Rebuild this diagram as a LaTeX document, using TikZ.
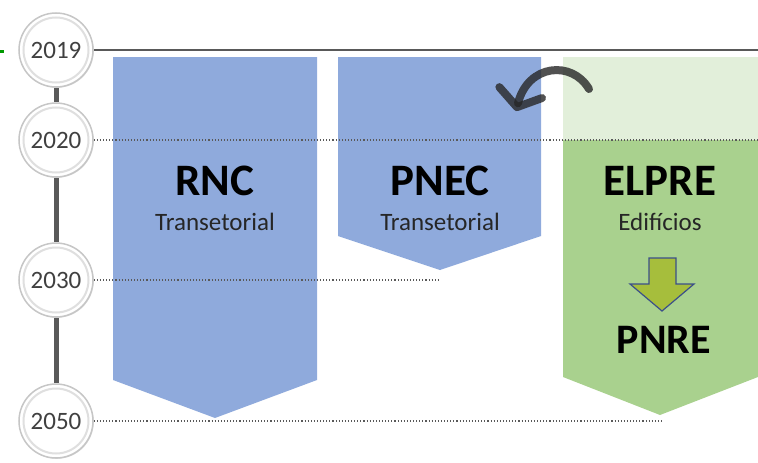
\documentclass[tikz,border=0pt]{standalone}
\usepackage{fontspec}
\setmainfont{Carlito}
\usepackage{xcolor}
\usetikzlibrary{arrows.meta,shadows}
\definecolor{bannerblue}{HTML}{8FAADC}
\definecolor{bannergreen}{HTML}{A9D18E}
\definecolor{palegreen}{HTML}{E2EFDA}
\definecolor{spinegray}{HTML}{595959}
\definecolor{olivearrow}{HTML}{A6BE3C}
\definecolor{arrowedge}{HTML}{3B4F8A}

\begin{document}
\begin{tikzpicture}[x=1pt, y=-1pt,
  yearball/.style={circle, fill=white, draw=gray!45, line width=1.5pt, minimum size=74pt,
    inner sep=0pt, font=\fontsize{25}{25}\selectfont, text=black!75,
    drop shadow={shadow xshift=0.8pt, shadow yshift=-0.8pt, opacity=0.3}},
  spine/.style={spinegray, line width=5pt},
  yearline/.style={black!65, dotted, line width=1.1pt},
  title/.style={font=\fontsize{45}{45}\selectfont\bfseries, text=black},
  subtitle/.style={font=\fontsize{25}{25}\selectfont, text=black!85}]
\useasboundingbox (0,0) rectangle (758,463);

% banners
\fill[bannerblue] (113,57) -- (317,57) -- (317,380) -- (215,418) -- (113,380) -- cycle;
\fill[bannerblue] (338,57) -- (541,57) -- (541,236) -- (440,270) -- (338,236) -- cycle;
\fill[palegreen] (563,57) rectangle (758,140);
\fill[bannergreen] (563,140) -- (758,140) -- (758,377) -- (660,415) -- (563,377) -- cycle;

% timeline
\node[yearball] (y2019) at (56,50) {2019};
\node[yearball] (y2020) at (56,140) {2020};
\node[yearball] (y2030) at (56,280) {2030};
\node[yearball] (y2050) at (56,421) {2050};
\foreach \n in {y2019,y2020,y2030,y2050}
  \draw[gray!25, line width=2pt] (\n.center) circle (32.5pt);
\foreach \a/\b in {y2019/y2020, y2020/y2030, y2030/y2050}
  \draw[spine] (\a) -- (\b);

\coordinate (end2019) at (758,50);
\coordinate (end2020) at (758,140);
\coordinate (end2030) at (440,280);
\coordinate (end2050) at (662,421);
\draw[spinegray, line width=2.2pt] (y2019) -- (end2019);
\draw[yearline] (y2020) -- (end2020);
\draw[yearline] (y2030) -- (end2030);
\draw[yearline] (y2050) -- (end2050);

\coordinate (tickL) at (0,51);
\coordinate (tickR) at (4,51);
\draw[green!60!black, line width=3pt] (tickL) -- (tickR);

% labels
\node[title] (rnc) at (215,181) {RNC};
\node[subtitle] (rncsub) at (215,222) {Transetorial};
\node[title] (pnec) at (440,181) {PNEC};
\node[subtitle] (pnecsub) at (440,222) {Transetorial};
\node[title] (elpre) at (660,181) {ELPRE};
\node[subtitle] (elpresub) at (660,222) {Edifícios};
\node[title, font=\fontsize{42}{42}\selectfont\bfseries] (pnre) at (664,340) {PNRE};

% down arrow
\draw[fill=olivearrow, draw=arrowedge, line width=1.2pt]
  (649,258) -- (676,258) -- (676,284) -- (694,284) -- (662,311)
  -- (630,284) -- (649,284) -- cycle;

% curved arrow
\coordinate (bendS) at (589,89);
\coordinate (bendE) at (516,111);
\draw[black!85, opacity=0.8, line width=8pt, line cap=round,
  -{Straight Barb[length=15pt, width=44pt, round]}]
  (bendS) .. controls (572,60) and (528,64) .. (bendE);
\end{tikzpicture}
\end{document}
